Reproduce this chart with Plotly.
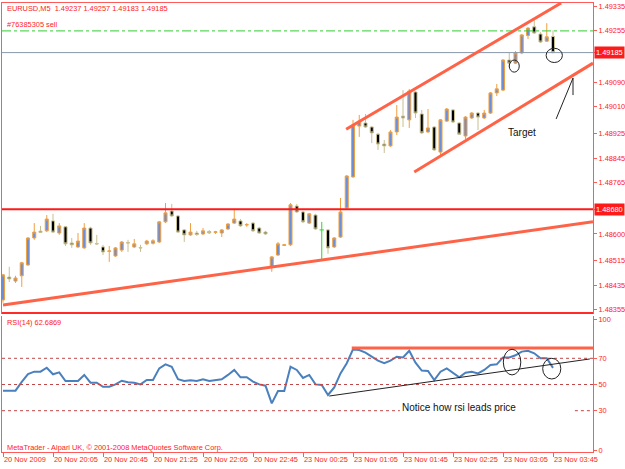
import plotly.graph_objects as go

# ---------------- data (EURUSD M5) ----------------
bar_open = [1.48387, 1.48461, 1.48448, 1.48465, 1.48500, 1.48587, 1.48609, 1.48610, 1.48642, 1.48603,
            1.48623, 1.48571, 1.48558, 1.48555, 1.48619, 1.48569, 1.48558, 1.48544, 1.48529, 1.48548,
            1.48572, 1.48558, 1.48556, 1.48568, 1.48570, 1.48574, 1.48639, 1.48674, 1.48658, 1.48613,
            1.48597, 1.48603, 1.48600, 1.48608, 1.48605, 1.48603, 1.48616, 1.48635, 1.48642, 1.48629,
            1.48635, 1.48619, 1.48606, 1.48494, 1.48532, 1.48563, 1.48565, 1.48690, 1.48671, 1.48635,
            1.48661, 1.48613, 1.48613, 1.48558, 1.48590, 1.48684, 1.48784, 1.48948, 1.48958, 1.48945,
            1.48922, 1.48890, 1.48884, 1.48929, 1.48980, 1.48968, 1.49058, 1.48987, 1.48929, 1.48945,
            1.48864, 1.48964, 1.49000, 1.48958, 1.48916, 1.48974, 1.48990, 1.48974, 1.48990, 1.49055,
            1.49064, 1.49161, 1.49151, 1.49184, 1.49240, 1.49268, 1.49245, 1.49222, 1.49237]
bar_high = [1.48471, 1.48494, 1.48465, 1.48510, 1.48590, 1.48635, 1.48626, 1.48661, 1.48665, 1.48635,
            1.48626, 1.48587, 1.48603, 1.48635, 1.48623, 1.48597, 1.48565, 1.48561, 1.48558, 1.48577,
            1.48581, 1.48584, 1.48565, 1.48581, 1.48583, 1.48642, 1.48700, 1.48697, 1.48661, 1.48616,
            1.48635, 1.48610, 1.48619, 1.48613, 1.48610, 1.48616, 1.48635, 1.48681, 1.48648, 1.48635,
            1.48639, 1.48623, 1.48610, 1.48529, 1.48574, 1.48568, 1.48700, 1.48697, 1.48674, 1.48668,
            1.48665, 1.48639, 1.48616, 1.48590, 1.48716, 1.48790, 1.48968, 1.48984, 1.48987, 1.48948,
            1.48926, 1.48903, 1.48935, 1.49016, 1.49064, 1.49068, 1.49061, 1.49000, 1.49003, 1.48948,
            1.48971, 1.49006, 1.49003, 1.48961, 1.48980, 1.48993, 1.48993, 1.49000, 1.49058, 1.49084,
            1.49164, 1.49184, 1.49190, 1.49245, 1.49267, 1.49290, 1.49251, 1.49280, 1.49257]
bar_low = [1.48378, 1.48445, 1.48442, 1.48429, 1.48497, 1.48581, 1.48603, 1.48606, 1.48603, 1.48597,
           1.48561, 1.48555, 1.48555, 1.48552, 1.48565, 1.48565, 1.48532, 1.48510, 1.48526, 1.48542,
           1.48542, 1.48555, 1.48542, 1.48565, 1.48566, 1.48571, 1.48635, 1.48655, 1.48603, 1.48574,
           1.48594, 1.48594, 1.48597, 1.48600, 1.48600, 1.48590, 1.48613, 1.48632, 1.48623, 1.48623,
           1.48606, 1.48600, 1.48597, 1.48478, 1.48529, 1.48561, 1.48561, 1.48668, 1.48635, 1.48632,
           1.48613, 1.48516, 1.48536, 1.48555, 1.48587, 1.48681, 1.48781, 1.48913, 1.48942, 1.48893,
           1.48871, 1.48861, 1.48881, 1.48919, 1.48945, 1.48942, 1.48974, 1.48922, 1.48926, 1.48868,
           1.48848, 1.48961, 1.48958, 1.48919, 1.48906, 1.48971, 1.48935, 1.48971, 1.48987, 1.49045,
           1.49061, 1.49138, 1.49148, 1.49180, 1.49229, 1.49245, 1.49216, 1.49219, 1.49183]
bar_close = [1.48468, 1.48455, 1.48458, 1.48507, 1.48587, 1.48606, 1.48605, 1.48648, 1.48606, 1.48626,
             1.48568, 1.48565, 1.48577, 1.48619, 1.48571, 1.48568, 1.48542, 1.48545, 1.48555, 1.48574,
             1.48571, 1.48568, 1.48555, 1.48577, 1.48578, 1.48639, 1.48668, 1.48658, 1.48606, 1.48597,
             1.48606, 1.48598, 1.48610, 1.48603, 1.48607, 1.48613, 1.48632, 1.48648, 1.48626, 1.48630,
             1.48610, 1.48603, 1.48600, 1.48526, 1.48568, 1.48565, 1.48694, 1.48671, 1.48639, 1.48665,
             1.48616, 1.48613, 1.48555, 1.48587, 1.48671, 1.48787, 1.48951, 1.48964, 1.48945, 1.48926,
             1.48890, 1.48884, 1.48929, 1.48977, 1.48974, 1.49061, 1.48990, 1.48926, 1.48942, 1.48871,
             1.48968, 1.49003, 1.48961, 1.48922, 1.48977, 1.48990, 1.48977, 1.48990, 1.49055, 1.49068,
             1.49161, 1.49151, 1.49184, 1.49242, 1.49264, 1.49248, 1.49219, 1.49236, 1.49185]
rsi14 = [45.3, 45.3, 45.3, 52.0, 58.0, 59.8, 59.8, 62.8, 57.8, 59.3,
         52.7, 52.7, 52.7, 57.3, 51.4, 51.4, 48.3, 48.3, 50.1, 52.9,
         51.7, 51.4, 50.1, 53.4, 53.4, 62.3, 65.4, 63.6, 54.0, 52.7,
         53.2, 52.7, 54.0, 52.7, 53.4, 54.0, 57.3, 61.1, 55.5, 55.5,
         52.2, 50.1, 49.1, 35.6, 45.0, 45.0, 63.6, 61.1, 55.0, 57.3,
         50.1, 49.6, 42.0, 47.8, 58.5, 66.2, 76.8, 76.3, 74.3, 71.2,
         68.2, 66.2, 68.2, 71.2, 70.7, 75.8, 66.7, 60.6, 60.3, 53.4,
         59.8, 62.3, 59.0, 55.5, 59.0, 59.8, 58.5, 61.1, 64.9, 65.4,
         70.7, 70.7, 72.3, 75.1, 75.8, 73.8, 70.0, 70.0, 62.69]
doji_bars = [51]

tick_bars = [0, 8, 16, 24, 32, 40, 48, 56, 64, 72, 80, 88]
tick_labels = ["20 Nov 2009", "20 Nov 20:05", "20 Nov 20:45", "20 Nov 21:25", "20 Nov 22:05",
               "20 Nov 22:45", "23 Nov 00:25", "23 Nov 01:05", "23 Nov 01:45", "23 Nov 02:25",
               "23 Nov 03:05", "23 Nov 03:45"]
price_ticks = [1.48355, 1.48435, 1.48515, 1.48600, 1.48680, 1.48765, 1.48845, 1.48925,
               1.49010, 1.49090, 1.49185, 1.49255, 1.49335]
price_tick_text = ["1.48355", "1.48435", "1.48515", "1.48600", "", "1.48765", "1.48845", "1.48925",
                   "1.49010", "1.49090", "", "1.49255", "1.49335"]
rsi_ticks = [0, 30, 50, 70, 100]
rsi_levels = [70, 50]
rsi_level30 = 30

bid_price = 1.49185
order_price = 1.49255
hline_price = 1.48680

# user drawn objects (bar index, value)
support_line = [(0.0, 1.48371), (94.4, 1.48639)]
channel_top = [(54.9, 1.48938), (89.3, 1.49345)]
channel_bottom = [(65.8, 1.48800), (94.4, 1.49151)]
arrow_pts = [(88.5, 1.48971), (91.2, 1.49103), (91.2, 1.49048)]
ellipses_price = [(81.0, 82.6, 1.49122, 1.49161), (86.9, 89.5, 1.49153, 1.49199)]
rsi_resist = [(55.8, 77.9), (94.4, 77.9)]
rsi_trend = [(52.2, 41.2), (93.9, 69.5)]
ellipses_rsi = [(80.05, 82.85, 57.3, 76.9), (86.35, 89.25, 54.2, 70.0)]

FONT = "Liberation Sans, Arial, sans-serif"
FS = 7.4
TXT = "#ff1a1a"
FRAME = "#ff5a5a"
BULL_LINE = "#f0a040"
BULL_FILL = "#6b8fd8"
BEAR_LINE = "#c8c090"
BEAR_FILL = "#000000"
TREND = "#ff6347"
DOJI = "#22dd22"

n = len(bar_close)
xs = list(range(n))
norm = [i for i in xs if i not in doji_bars]

fig = go.Figure()
fig.add_trace(go.Candlestick(
    x=[xs[i] for i in norm], open=[bar_open[i] for i in norm], high=[bar_high[i] for i in norm],
    low=[bar_low[i] for i in norm], close=[bar_close[i] for i in norm],
    xaxis="x2", yaxis="y",
    increasing=dict(line=dict(color=BULL_LINE, width=1), fillcolor=BULL_FILL),
    decreasing=dict(line=dict(color=BEAR_LINE, width=1), fillcolor=BEAR_FILL),
    whiskerwidth=0, hoverinfo="skip", showlegend=False))
# doji bars (open == close) drawn as a cross in the line-graph colour
dx, dy = [], []
for i in doji_bars:
    dx += [xs[i], xs[i], None, xs[i] - 0.35, xs[i] + 0.35, None]
    dy += [bar_low[i], bar_high[i], None, bar_open[i], bar_open[i], None]
fig.add_trace(go.Scatter(x=dx, y=dy, xaxis="x2", yaxis="y", mode="lines",
                         line=dict(color=DOJI, width=1), hoverinfo="skip", showlegend=False))
fig.add_trace(go.Scatter(x=xs, y=rsi14, xaxis="x", yaxis="y2", mode="lines",
                         line=dict(color="#4a80bd", width=2), hoverinfo="skip", showlegend=False))

XR = [-0.16, 94.4]
shapes = []


def seg(p, q, xr, yr, color, width, dash="solid"):
    shapes.append(dict(type="line", xref=xr, yref=yr, x0=p[0], y0=p[1], x1=q[0], y1=q[1],
                       line=dict(color=color, width=width, dash=dash), layer="above"))


# price panel horizontal lines
seg((XR[0], order_price), (XR[1], order_price), "x2", "y", "#33cc33", 1, "dashdot")
seg((XR[0], bid_price), (XR[1], bid_price), "x2", "y", "#8899aa", 1)
seg((XR[0], hline_price), (XR[1], hline_price), "x2", "y", "#ff1a1a", 2)
# trend lines
seg(support_line[0], support_line[1], "x2", "y", TREND, 3)
seg(channel_top[0], channel_top[1], "x2", "y", TREND, 3)
seg(channel_bottom[0], channel_bottom[1], "x2", "y", TREND, 3)
seg(arrow_pts[0], arrow_pts[1], "x2", "y", "#222222", 1)
seg(arrow_pts[1], arrow_pts[2], "x2", "y", "#222222", 1)
for (a, b, c, d) in ellipses_price:
    shapes.append(dict(type="circle", xref="x2", yref="y", x0=a, x1=b, y0=c, y1=d,
                       line=dict(color="#222222", width=1), layer="above"))
# RSI levels
for lv in rsi_levels:
    seg((XR[0], lv), (XR[1], lv), "x", "y2", "#c04848", 1, "dot")
seg((XR[0], rsi_level30), (63.5, rsi_level30), "x", "y2", "#c04848", 1, "dot")
seg((91.5, rsi_level30), (XR[1], rsi_level30), "x", "y2", "#c04848", 1, "dot")
seg(rsi_resist[0], rsi_resist[1], "x", "y2", TREND, 3)
seg(rsi_trend[0], rsi_trend[1], "x", "y2", "#222222", 1)
for (a, b, c, d) in ellipses_rsi:
    shapes.append(dict(type="circle", xref="x", yref="y2", x0=a, x1=b, y0=c, y1=d,
                       line=dict(color="#222222", width=1), layer="above"))
# panel separator
shapes.append(dict(type="line", xref="paper", yref="paper", x0=0, x1=1,
                   y0=(452 - 313) / 449, y1=(452 - 313) / 449,
                   line=dict(color="#ff2a2a", width=2), layer="above"))

tf = dict(family=FONT, size=FS, color=TXT)
annotations = [
    dict(xref="paper", yref="paper", x=0.005, y=(452 - 8) / 449, text="EURUSD,M5  1.49237 1.49257 1.49183 1.49185",
         showarrow=False, xanchor="left", yanchor="middle", font=tf),
    dict(xref="paper", yref="y", x=0.005, y=order_price, yshift=0, text="#76385305 sell",
         showarrow=False, xanchor="left", yanchor="bottom", font=tf),
    dict(xref="paper", yref="paper", x=0.005, y=(452 - 322) / 449, text="RSI(14) 62.6869",
         showarrow=False, xanchor="left", yanchor="middle", font=tf),
    dict(xref="paper", yref="paper", x=0.005, y=(452 - 447) / 449,
         text="MetaTrader - Alpari UK, © 2001-2008 MetaQuotes Software Corp.",
         showarrow=False, xanchor="left", yanchor="middle", font=tf),
    dict(xref="x2", yref="y", x=83.0, y=1.48926, text="Target", showarrow=False,
         font=dict(family="Liberation Sans, Arial", size=10, color="#111111")),
    dict(xref="x", yref="y2", x=63.5, y=32.8, text="Notice how rsi leads price", showarrow=False,
         xanchor="left", font=dict(family="Liberation Sans, Arial", size=10, color="#111111")),
]
for pv in (bid_price, hline_price):
    annotations.append(dict(xref="paper", yref="y", x=1, xshift=1, y=pv, text="%.5f" % pv, showarrow=False,
                            xanchor="left", yanchor="middle", bgcolor="#ff1a1a", borderpad=1,
                            font=dict(family=FONT, size=FS, color="#ffffff")))

axis_common = dict(showgrid=False, zeroline=False, showline=True, linecolor=FRAME, linewidth=1,
                   tickcolor=FRAME, automargin=False, tickfont=tf)

fig.update_layout(
    width=625, height=469, margin=dict(l=2, r=32, t=3, b=17, autoexpand=False),
    paper_bgcolor="#ffffff", plot_bgcolor="#ffffff", boxmode="overlay",
    xaxis=dict(domain=[0, 1], anchor="y2", range=XR, tickvals=tick_bars, ticktext=tick_labels,
               ticks="outside", ticklen=4, tickangle=0, ticklabelposition="outside right",
               mirror=False, **axis_common),
    xaxis2=dict(domain=[0, 1], anchor="y", matches="x", range=XR, showticklabels=False,
                rangeslider=dict(visible=False), mirror=True, ticks="", **axis_common),
    yaxis=dict(domain=[(452 - 313) / 449, 1], anchor="x2", side="right", range=[1.48345, 1.49345],
               tickvals=price_ticks, ticktext=price_tick_text, ticks="outside", ticklen=3,
               mirror=True, **axis_common),
    yaxis2=dict(domain=[0, (452 - 316) / 449], anchor="x", side="right", range=[-1.53, 102.3],
                tickvals=rsi_ticks, ticks="outside", ticklen=3, mirror=True, **axis_common),
    shapes=shapes, annotations=annotations,
)

fig.write_html("out.html")
